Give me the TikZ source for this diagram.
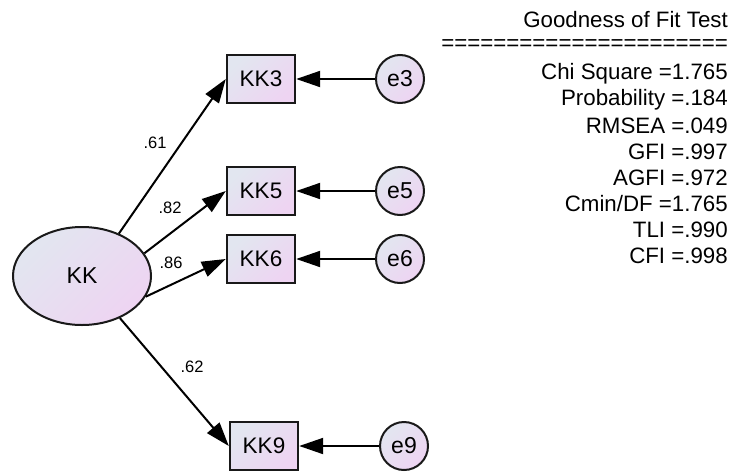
\documentclass[tikz,border=0pt]{standalone}
\usepackage{fontspec}
\setmainfont{Liberation Sans}
\usetikzlibrary{arrows.meta,shapes.geometric}
\definecolor{fillA}{RGB}{226,230,240}
\definecolor{fillB}{RGB}{238,212,242}
\definecolor{edge}{RGB}{25,25,25}
\begin{document}
\begin{tikzpicture}[x=1pt,y=-1pt,
  shadefill/.style={top color=fillA,bottom color=fillB,shading angle=45},
  latent/.style={ellipse,draw=edge,line width=2pt,shadefill,minimum width=138pt,minimum height=98pt,inner sep=0pt,font=\fontsize{23}{25}\selectfont},
  observed/.style={rectangle,draw=edge,line width=2.4pt,shadefill,minimum width=68pt,minimum height=48pt,inner sep=0pt,font=\fontsize{22.5}{25}\selectfont},
  errorterm/.style={circle,draw=edge,line width=2pt,shadefill,minimum size=48pt,inner sep=0pt,font=\fontsize{23}{25}\selectfont},
  path/.style={line width=2pt,-{Triangle[length=24pt,width=16pt]}},
  weight/.style={font=\fontsize{16.5}{18}\selectfont,inner sep=0pt},
  fit/.style={anchor=east,inner sep=0pt,font=\fontsize{22.3}{24}\selectfont}]
\useasboundingbox (0,0) rectangle (738,471);

% latent factor
\node[latent] (KK) at (82,276) {KK};

% indicators
\node[observed] (KK3) at (261,79) {KK3};
\node[observed] (KK5) at (261,191) {KK5};
\node[observed] (KK6) at (261,259) {KK6};
\node[observed] (KK9) at (264,446) {KK9};

% error terms
\node[errorterm] (e3) at (400,79) {e3};
\node[errorterm] (e5) at (400,191) {e5};
\node[errorterm] (e6) at (400,259) {e6};
\node[errorterm] (e9) at (404,446) {e9};

% loadings
\draw[path] (KK.49) -- (KK3.west);
\draw[path] (KK.20) -- (KK5.west);
\draw[path] (KK.-18) -- (KK6.west);
\draw[path] (KK.-48) -- (KK9.west);

\node[weight] (w3) at (155,143) {.61};
\node[weight] (w5) at (170,208) {.82};
\node[weight] (w6) at (171,263) {.86};
\node[weight] (w9) at (192,367) {.62};

% error paths
\draw[path] (e3) -- (KK3);
\draw[path] (e5) -- (KK5);
\draw[path] (e6) -- (KK6);
\draw[path] (e9) -- (KK9);

% fit statistics
\node[fit] (t0) at (728,20) {Goodness of Fit Test};
\node[fit] (t1) at (728,45) {======================};
\node[fit] (t2) at (728,74) {Chi Square =1.765};
\node[fit] (t3) at (728,100) {Probability =.184};
\node[fit] (t4) at (728,126) {RMSEA =.049};
\node[fit] (t5) at (728,152) {GFI =.997};
\node[fit] (t6) at (728,178) {AGFI =.972};
\node[fit] (t7) at (728,204) {Cmin/DF =1.765};
\node[fit] (t8) at (728,230) {TLI =.990};
\node[fit] (t9) at (728,256) {CFI =.998};
\end{tikzpicture}
\end{document}
